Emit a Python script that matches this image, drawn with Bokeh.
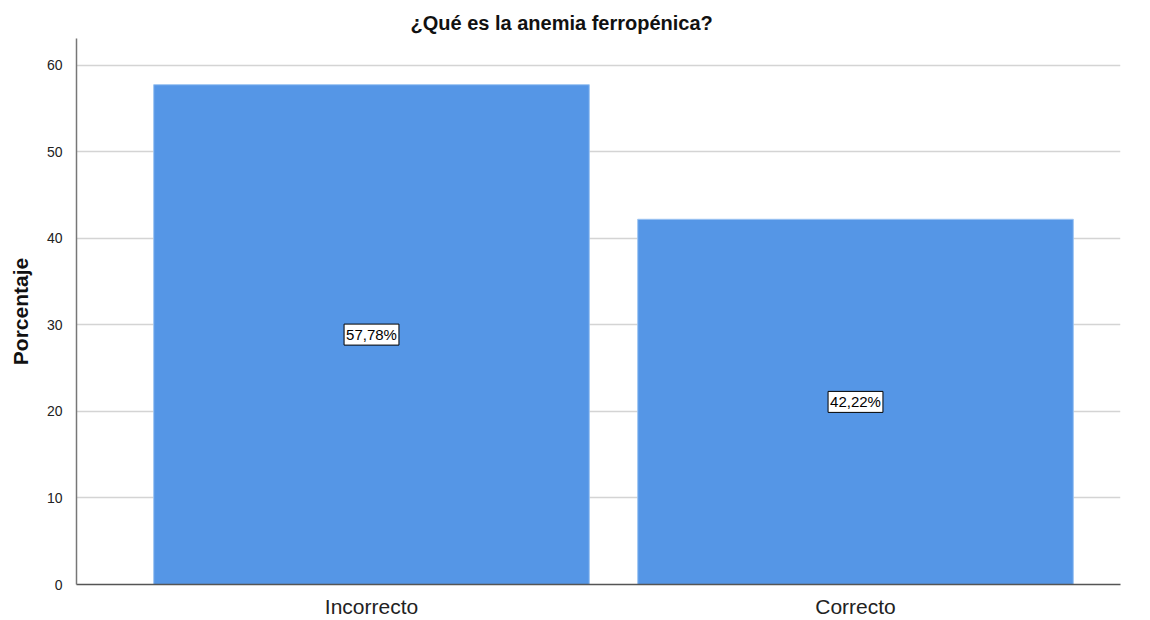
from bokeh.plotting import figure
from bokeh.models import ColumnDataSource, Label, FixedTicker, Range1d
from bokeh.embed import file_html
from bokeh.resources import INLINE

categories = ["Incorrecto", "Correcto"]
percentages = [57.78, 42.22]
value_labels = ["57,78%", "42,22%"]
y_ticks = [0, 10, 20, 30, 40, 50, 60]

FONT = "Liberation Sans"
positions = list(range(len(categories)))

source = ColumnDataSource(dict(
    x=positions,
    top=percentages,
))

p = figure(
    width=1150, height=620,
    output_backend="svg", toolbar_location=None,
    x_range=Range1d(-0.6095, 1.5475),
    y_range=Range1d(0, 63.12),
    min_border_left=76, min_border_right=30,
    min_border_top=38, min_border_bottom=35,
)

p.title.text = "¿Qué es la anemia ferropénica?"
p.title.align = "left"
p.title.offset = 334
p.title.text_font = FONT
p.title.text_font_size = "20px"
p.title.text_font_style = "bold"
p.title.text_color = "#111111"

p.vbar(x="x", top="top", bottom=0, width=0.9, source=source,
       fill_color="#5596E6", line_color="#9CC4F2", line_width=1)

# boxed value labels at half the bar height
for xpos, pct, txt in zip(positions, percentages, value_labels):
    p.add_layout(Label(
        x=xpos, y=pct / 2, text=txt,
        text_align="center", text_baseline="middle",
        text_font=FONT, text_font_size="15px", text_color="black",
        background_fill_color="white", border_line_color="black",
        border_line_width=1, padding=2,
    ))

# x axis: category names under each bar
p.xaxis.ticker = FixedTicker(ticks=positions)
p.xaxis.major_label_overrides = {i: c for i, c in zip(positions, categories)}
p.xaxis.major_label_text_font = FONT
p.xaxis.major_label_text_font_size = "21px"
p.xaxis.major_label_text_color = "#222222"
p.xaxis.major_tick_line_color = None
p.xaxis.minor_tick_line_color = None
p.xaxis.axis_line_color = "#555555"
p.xaxis.axis_line_width = 1.5
p.xaxis.major_label_standoff = 4

# y axis
p.yaxis.ticker = FixedTicker(ticks=y_ticks)
p.yaxis.axis_label = "Porcentaje"
p.yaxis.axis_label_text_font = FONT
p.yaxis.axis_label_text_font_size = "21px"
p.yaxis.axis_label_text_font_style = "bold"
p.yaxis.axis_label_text_color = "#111111"
p.yaxis.axis_label_standoff = 12
p.yaxis.major_label_text_font = FONT
p.yaxis.major_label_text_font_size = "14px"
p.yaxis.major_label_text_color = "#222222"
p.yaxis.major_tick_line_color = None
p.yaxis.minor_tick_line_color = None
p.yaxis.axis_line_color = "#777777"
p.yaxis.axis_line_width = 1.5
p.yaxis.major_label_standoff = 8

p.xgrid.grid_line_color = None
p.ygrid.grid_line_color = "#D4D4D4"
p.ygrid.grid_line_width = 1.5
p.outline_line_color = None
p.background_fill_color = "white"
p.border_fill_color = "white"

open("out.html", "w").write(file_html(p, INLINE))
